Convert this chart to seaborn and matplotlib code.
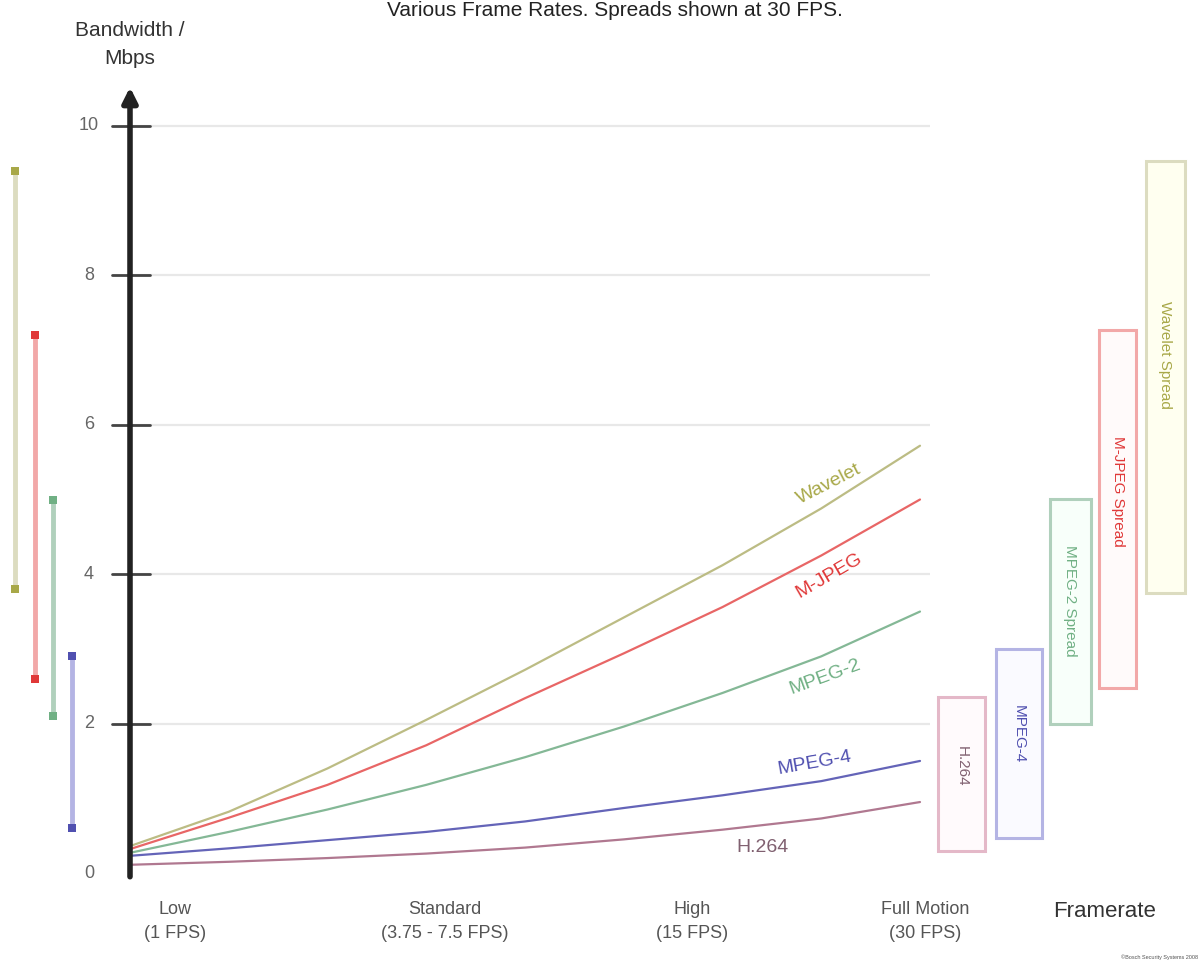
import matplotlib
matplotlib.use("Agg")
import matplotlib.pyplot as plt
import seaborn as sns
import pandas as pd
from matplotlib.patches import Rectangle

# ---------------- data ----------------
codecs = ["Wavelet", "M-JPEG", "MPEG-2", "MPEG-4", "H.264"]
# position along the framerate axis (0 = origin, 1 = 30 FPS)
x_pos = [0.0, 0.125, 0.25, 0.375, 0.5, 0.625, 0.75, 0.875, 1.0]
wavelet = [0.36, 0.82, 1.40, 2.05, 2.72, 3.42, 4.12, 4.88, 5.72]
mjpeg = [0.32, 0.74, 1.18, 1.71, 2.34, 2.94, 3.56, 4.25, 5.00]
mpeg2 = [0.27, 0.55, 0.85, 1.18, 1.55, 1.96, 2.41, 2.90, 3.50]
mpeg4 = [0.23, 0.33, 0.44, 0.55, 0.69, 0.87, 1.04, 1.23, 1.50]
h264 = [0.11, 0.15, 0.20, 0.26, 0.34, 0.45, 0.58, 0.73, 0.95]

colors = ["#bcbc84", "#e86666", "#84b896", "#6464b8", "#b07890"]
label_colors = ["#a8a848", "#e03838", "#70b084", "#5050b0", "#806070"]
light_colors = ["#dcdcc0", "#f2a8a8", "#b0d0bc", "#b4b4e4", "#e4b8c8"]

# spreads at 30 FPS
spread_codecs = ["H.264", "MPEG-4", "MPEG-2", "M-JPEG", "Wavelet"]
spread_labels = ["H.264", "MPEG-4", "MPEG-2 Spread", "M-JPEG Spread", "Wavelet Spread"]
spread_low = [0.30, 0.47, 2.00, 2.48, 3.75]
spread_high = [2.35, 3.00, 5.00, 7.27, 9.53]

# left-hand range arrows
arrow_codecs = ["Wavelet", "M-JPEG", "MPEG-2", "MPEG-4"]
arrow_low = [3.80, 2.60, 2.10, 0.60]
arrow_high = [9.40, 7.20, 5.00, 2.90]

yticks = [0, 2, 4, 6, 8, 10]
cat_labels = ["Low\n(1 FPS)", "Standard\n(3.75 - 7.5 FPS)", "High\n(15 FPS)", "Full Motion\n(30 FPS)"]
cat_pos = [0.057, 0.399, 0.711, 1.006]

series = {"Wavelet": wavelet, "M-JPEG": mjpeg, "MPEG-2": mpeg2, "MPEG-4": mpeg4, "H.264": h264}
rows = []
for name in codecs:
    for xv, yv in zip(x_pos, series[name]):
        rows.append({"x": xv, "bw": yv, "codec": name})
df = pd.DataFrame(rows)
pal = dict(zip(codecs, colors))
tpal = dict(zip(codecs, label_colors))
lpal = dict(zip(codecs, light_colors))

# ---------------- figure ----------------
sns.set_theme(style="white")
plt.rcParams["font.family"] = ["Liberation Sans", "DejaVu Sans"]

W, H = 1203, 965
fig = plt.figure(figsize=(W / 100, H / 100), dpi=100)
ax = fig.add_axes([0, 0, 1, 1])
px_per_x = 790.0
px_per_y = 74.7
x0_px, y0_px = 130.0, 873.0
ax.set_xlim(-x0_px / px_per_x, (W - x0_px) / px_per_x)
ax.set_ylim(-(H - y0_px) / px_per_y, y0_px / px_per_y)
ax.axis("off")

# gridlines
ax.hlines([t for t in yticks if t > 0], 0, 1.013, color="#e8e8e8", lw=1.6, zorder=1)

# curves
sns.lineplot(data=df, x="x", y="bw", hue="codec", palette=pal, legend=False,
             lw=1.6, ax=ax, zorder=3, estimator=None, sort=True)

# axes arrows
ax.annotate("", xy=(0, 10.52), xytext=(0, -0.05),
            arrowprops=dict(arrowstyle="-|>", color="#222222", lw=4, mutation_scale=22,
                            shrinkA=0, shrinkB=0), zorder=5)
ax.annotate("", xy=(1.36, 0), xytext=(-0.005, 0),
            arrowprops=dict(arrowstyle="-|>", color="#333333", lw=4, mutation_scale=22,
                            shrinkA=0, shrinkB=0), zorder=5)

# ticks
for t in yticks:
    if t > 0:
        ax.plot([-0.023, 0.025], [t, t], color="#444444", lw=2, zorder=4)
    ax.text(-0.052, t, str(t), ha="center", va="center", fontsize=13, color="#666666")

# curve labels
curve_lab = {
    "Wavelet": (0.885, 5.20, 27),
    "M-JPEG": (0.885, 3.98, 30),
    "MPEG-2": (0.880, 2.62, 20),
    "MPEG-4": (0.866, 1.47, 10),
    "H.264": (0.800, 0.34, 0),
}
for name, (xx, yy, rot) in curve_lab.items():
    ax.text(xx, yy, name, color=tpal[name], fontsize=14, rotation=rot,
            ha="center", va="center", rotation_mode="anchor")

# left range arrows
arrow_x = [-0.146, -0.120, -0.097, -0.073]
for xa, name, lo, hi in zip(arrow_x, arrow_codecs, arrow_low, arrow_high):
    ax.plot([xa, xa], [lo, hi], color=lpal[name], lw=3.5, zorder=2, solid_capstyle="butt")
    ax.scatter([xa, xa], [lo, hi], color=tpal[name], marker="s", s=26, zorder=3, linewidths=0)

# spread boxes
box_x = [1.023, 1.096, 1.165, 1.227, 1.286]
box_w = [0.059, 0.058, 0.051, 0.047, 0.049]
box_face = ["#fffafc", "#fafaff", "#f8fffa", "#fffafa", "#fffff0"]
for bx, bw, name, lab, lo, hi, fc in zip(box_x, box_w, spread_codecs, spread_labels,
                                         spread_low, spread_high, box_face):
    ax.add_patch(Rectangle((bx, lo), bw, hi - lo, facecolor=fc, edgecolor=lpal[name],
                           lw=2.2, zorder=3))
    ax.text(bx + bw / 2, lo + (hi - lo) * 0.55, lab, rotation=270, color=tpal[name],
            fontsize=11, ha="center", va="center", zorder=4)

# category labels
for xp, lab in zip(cat_pos, cat_labels):
    ax.text(xp, -0.65, lab, ha="center", va="center", fontsize=13, color="#555555",
            linespacing=1.5)
ax.text((1105 - x0_px) / px_per_x, -0.52, "Framerate", ha="center", va="center",
        fontsize=16, color="#333333")
ax.text((1160 - x0_px) / px_per_x, -1.13, "©Bosch Security Systems 2008", ha="center",
        va="center", fontsize=4, color="#555555")

# y label and title
ax.text(0.0, (y0_px - 45) / px_per_y, "Bandwidth /\nMbps", ha="center", va="center",
        fontsize=15, color="#333333", linespacing=1.6)
ax.text((615 - x0_px) / px_per_x, (y0_px - 11) / px_per_y,
        "Various Frame Rates. Spreads shown at 30 FPS.", ha="center", va="center",
        fontsize=15, color="#222222")

fig.savefig("out.png", dpi=100)
